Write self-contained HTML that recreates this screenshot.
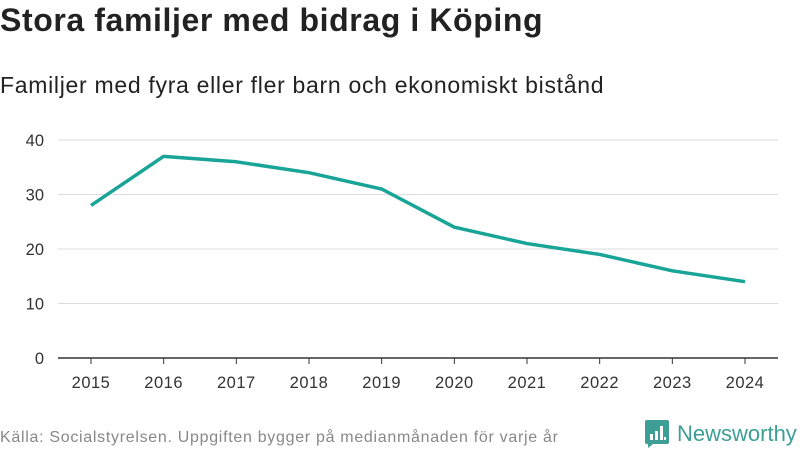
<!DOCTYPE html>
<html><head><meta charset="utf-8"><style>
body{margin:0;width:800px;height:450px;background:#fff;font-family:"Liberation Sans","DejaVu Sans",sans-serif;overflow:hidden;position:relative;color:#222}
#title{position:absolute;left:0;top:2px;font-size:32px;font-weight:bold;margin:0;letter-spacing:0.6px}
#subtitle{position:absolute;left:0;top:72px;font-size:23px;letter-spacing:0.7px}
#source{position:absolute;left:0;top:429px;font-size:16px;color:#888;letter-spacing:0.7px}
#logo{position:absolute;left:645px;top:420px;display:flex;align-items:center;gap:8px;font-size:22px;color:#3d9e96}
</style></head><body>
<h1 id="title">Stora familjer med bidrag i Köping</h1>
<div id="subtitle">Familjer med fyra eller fler barn och ekonomiskt bistånd</div>
<svg id="chart" width="800" height="450" style="position:absolute;left:0;top:0"></svg>
<div id="source">Källa: Socialstyrelsen. Uppgiften bygger på medianmånaden för varje år</div>
<div id="logo">
<svg width="24" height="28"><path d="M0 2 Q0 0 2 0 H22 Q24 0 24 2 V22 Q24 24 22 24 H8 L3 28 V24 H2 Q0 24 0 22Z" fill="#3d9e96"/><rect x="5" y="14" width="3" height="6" fill="#fff"/><rect x="10" y="11" width="3" height="9" fill="#fff"/><rect x="15" y="6" width="3" height="14" fill="#fff"/><rect x="19" y="17" width="2" height="3" fill="#fff"/></svg>
<span>Newsworthy</span></div>
<script>
const years=["2015","2016","2017","2018","2019","2020","2021","2022","2023","2024"];
const values=[28,37,36,34,31,24,21,19,16,14];
const yTicks=[0,10,20,30,40];
const ns="http://www.w3.org/2000/svg";
const svg=document.getElementById('chart');
const x=i=>91+i*(745-91)/(years.length-1);
const y=v=>358-v*(358-140)/40;
function mk(t,a){const e=document.createElementNS(ns,t);for(const k in a)e.setAttribute(k,a[k]);svg.appendChild(e);return e;}
yTicks.forEach(t=>{
 const l=mk('line',{x1:58,x2:778,y1:y(t),y2:y(t),stroke:t===0?'#333':'#ddd','stroke-width':t===0?1.5:1});
 
 
 const tx=mk('text',{x:44,y:y(t)+6,'text-anchor':'end','font-size':16.5,fill:'#333','font-family':'Liberation Sans, DejaVu Sans, sans-serif'});
 tx.textContent=t;
 
 
});
years.forEach((yr,i)=>{
 const tk=mk('line',{x1:x(i),x2:x(i),y1:358,y2:364,stroke:'#333'});
 
 
 const tx=mk('text',{x:x(i),y:388,'text-anchor':'middle','font-size':16.5,fill:'#333','font-family':'Liberation Sans, DejaVu Sans, sans-serif','letter-spacing':0.5});
 tx.textContent=yr;
 
 
});
const p=mk('polyline',{points:values.map((v,i)=>x(i)+','+y(v)).join(' '),fill:'none',stroke:'#18a497','stroke-width':3.5,'stroke-linejoin':'round'});


</script>
</body></html>
